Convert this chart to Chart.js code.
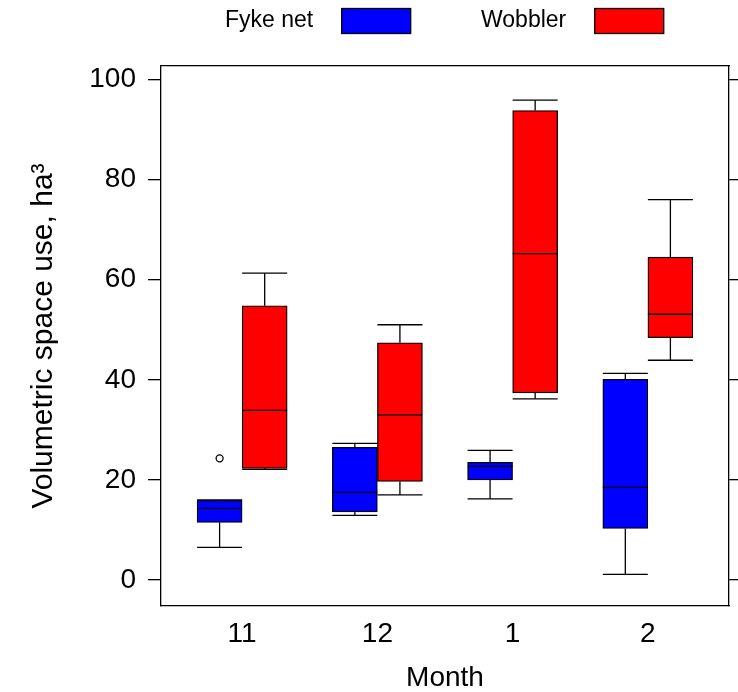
<!DOCTYPE html>
<html>
<head>
<meta charset="utf-8">
<script src="https://cdn.jsdelivr.net/npm/chart.js@4.4.0/dist/chart.umd.min.js"></script>
<style>
  html,body{margin:0;padding:0;background:#fff;}
</style>
</head>
<body>
<canvas id="chart" width="738" height="692"></canvas>
<script>
const months = ['11','12','1','2'];
const yTicks = [0,20,40,60,80,100];

// Fyke net boxes
const fykeMin = [6.5, 12.9, 16.2, 1.1];
const fykeQ1  = [11.5, 13.6, 20.0, 10.3];
const fykeMed = [14.3, 17.5, 22.7, 18.5];
const fykeQ3  = [15.9, 26.5, 23.5, 40.1];
const fykeMax = [16.0, 27.3, 25.9, 41.3];
const fykeOutliers = [24.3, null, null, null];

// Wobbler boxes
const wobMin = [22.1, 17.0, 36.2, 43.9];
const wobQ1  = [22.3, 19.7, 37.4, 48.4];
const wobMed = [33.9, 33.0, 65.2, 53.1];
const wobQ3  = [54.8, 47.4, 93.8, 64.5];
const wobMax = [61.3, 51.0, 95.9, 76.0];

const FONT = '"Liberation Sans", Arial, Helvetica, sans-serif';
const BLUE = '#0000ff', RED = '#ff0000';
const OFFSET = 1/6;
const LW = 1.3;

const stats = [
  {min:fykeMin, q1:fykeQ1, med:fykeMed, q3:fykeQ3, max:fykeMax},
  {min:wobMin, q1:wobQ1, med:wobMed, q3:wobQ3, max:wobMax}
];

// whiskers, caps and medians on top of the floating bars
const whiskerPlugin = {
  id:'whiskers',
  afterDatasetsDraw(chart){
    const ctx = chart.ctx, y = chart.scales.y;
    ctx.save();
    ctx.strokeStyle = '#000';
    ctx.lineWidth = LW;
    stats.forEach((s,d)=>{
      const meta = chart.getDatasetMeta(d);
      meta.data.forEach((bar,i)=>{
        const cx = bar.x, half = bar.width/2;
        const line = (x1,y1,x2,y2)=>{ctx.beginPath();ctx.moveTo(x1,y1);ctx.lineTo(x2,y2);ctx.stroke();};
        line(cx, y.getPixelForValue(s.q3[i]), cx, y.getPixelForValue(s.max[i]));
        line(cx-half, y.getPixelForValue(s.max[i]), cx+half, y.getPixelForValue(s.max[i]));
        line(cx, y.getPixelForValue(s.q1[i]), cx, y.getPixelForValue(s.min[i]));
        line(cx-half, y.getPixelForValue(s.min[i]), cx+half, y.getPixelForValue(s.min[i]));
        line(cx-half, y.getPixelForValue(s.med[i]), cx+half, y.getPixelForValue(s.med[i]));
      });
    });
    ctx.restore();
  }
};

// legend at the top: label first, then the colour box
const topLegend = {
  id:'topLegend',
  afterDraw(chart){
    const ctx = chart.ctx;
    const items = [{label:'Fyke net', color:BLUE, x:225}, {label:'Wobbler', color:RED, x:481}];
    ctx.save();
    ctx.font = '23px ' + FONT;
    ctx.textBaseline = 'middle';
    items.forEach(it=>{
      ctx.fillStyle = '#000';
      ctx.fillText(it.label, it.x, 21);
      const w = ctx.measureText(it.label).width;
      const bx = it.x + w + 28;
      ctx.fillStyle = it.color;
      ctx.fillRect(bx, 8, 69, 25);
      ctx.strokeStyle = '#000';
      ctx.lineWidth = LW;
      ctx.strokeRect(bx+0.5, 8.5, 69, 25);
    });
    ctx.restore();
  }
};

const boxData = (q1,q3,off)=>months.map((m,i)=>({x:i+1+off, y:[q1[i], q3[i]]}));
const outlierData = fykeOutliers
  .map((v,i)=>v==null ? null : {x:i+1-OFFSET, y:v})
  .filter(p=>p);

const yTickBuild = s=>{ s.ticks = yTicks.map(v=>({value:v})); };

new Chart(document.getElementById('chart'), {
  type:'bar',
  data:{
    datasets:[
      {label:'Fyke net', data:boxData(fykeQ1,fykeQ3,-OFFSET), backgroundColor:BLUE, borderColor:'#000', borderWidth:LW, borderSkipped:false, barThickness:45, grouped:false},
      {label:'Wobbler', data:boxData(wobQ1,wobQ3,OFFSET), backgroundColor:RED, borderColor:'#000', borderWidth:LW, borderSkipped:false, barThickness:45, grouped:false},
      {type:'scatter', label:'outlier', data:outlierData, pointRadius:3.5, pointBackgroundColor:'#fff', pointBorderColor:'#000', pointBorderWidth:1.3}
    ]
  },
  options:{
    responsive:false,
    animation:false,
    layout:{padding:{top:66, left:0, right:0, bottom:0}},
    plugins:{legend:{display:false}, tooltip:{enabled:false}},
    scales:{
      x:{
        type:'linear', position:'bottom', min:0.4, max:4.6, offset:false,
        afterBuildTicks: s=>{ s.ticks = months.map((m,i)=>({value:i+1})); },
        afterFit: s=>{ s.height = 86; },
        grid:{drawOnChartArea:false, drawTicks:false, offset:false},
        border:{display:true, color:'#000', width:LW},
        ticks:{color:'#000', font:{size:28, family:FONT}, padding:11, callback:v=>months[Math.round(v)-1]},
        title:{display:true, text:'Month', color:'#000', font:{size:28, family:FONT, lineHeight:1}, padding:{top:0, bottom:0}}
      },
      x2:{
        type:'linear', position:'top', min:0.4, max:4.6, offset:false,
        afterFit: s=>{ s.height = 0; },
        grid:{drawOnChartArea:false, drawTicks:false, offset:false},
        border:{display:true, color:'#000', width:LW},
        ticks:{display:false}
      },
      y:{
        type:'linear', position:'left', min:-5.2, max:102.7,
        afterBuildTicks: yTickBuild,
        afterFit: s=>{ s.width = 161; },
        grid:{drawOnChartArea:false, tickLength:13, color:'#000', lineWidth:LW},
        border:{display:true, color:'#000', width:LW},
        ticks:{color:'#000', font:{size:28, family:FONT}, padding:12},
        title:{display:true, text:'Volumetric space use, ha³', color:'#000', font:{size:30, family:FONT}, padding:{top:26, bottom:0}}
      },
      y2:{
        type:'linear', position:'right', min:-5.2, max:102.7,
        afterBuildTicks: yTickBuild,
        afterFit: s=>{ s.width = 9; },
        grid:{drawOnChartArea:false, tickLength:9, color:'#000', lineWidth:LW},
        border:{display:true, color:'#000', width:LW},
        ticks:{display:false}
      }
    }
  },
  plugins:[whiskerPlugin, topLegend]
});
</script>
</body>
</html>
